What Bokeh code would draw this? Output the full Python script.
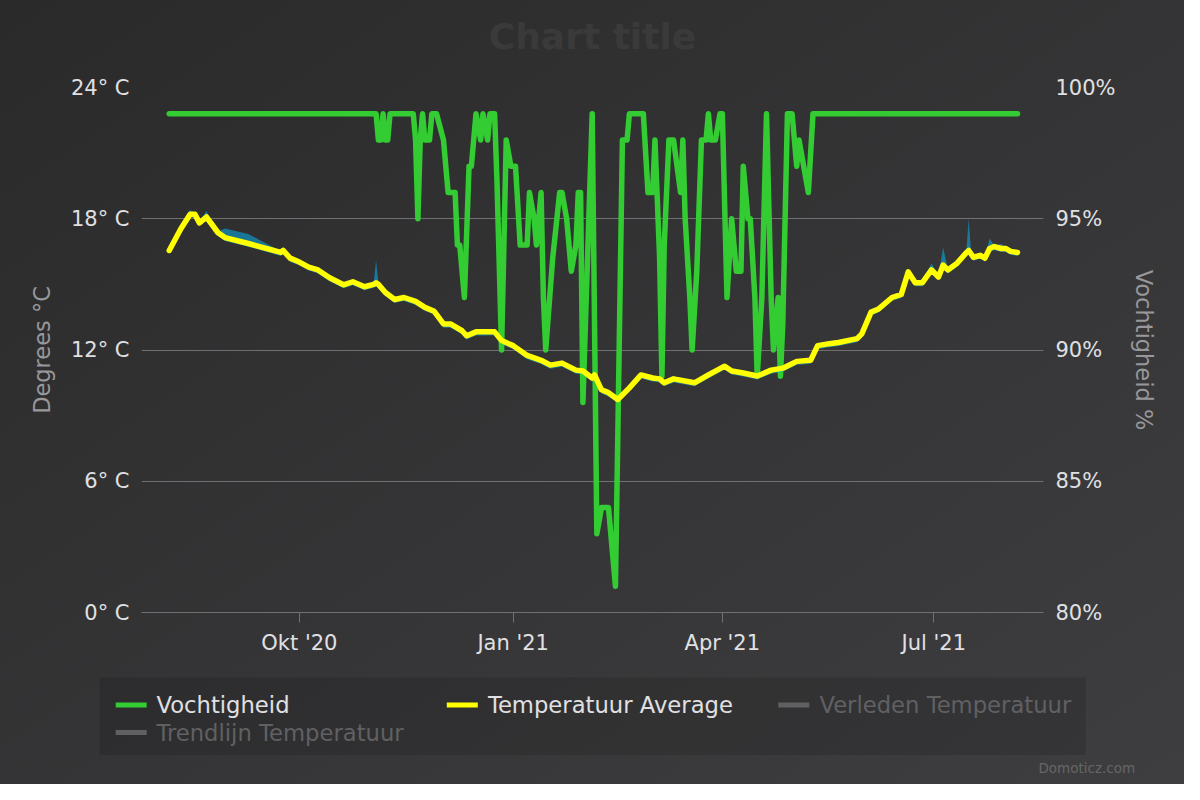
import pandas as pd
from bokeh.plotting import figure
from bokeh.layouts import column
from bokeh.models import ColumnDataSource, Range1d, LinearAxis, FixedTicker
from bokeh.core.properties import value
from bokeh.embed import file_html
from bokeh.resources import INLINE

# ---------------- data ----------------
temp_dates = [
    "2020-08-06", "2020-08-11", "2020-08-15", "2020-08-17", "2020-08-19", "2020-08-22", "2020-08-27", "2020-08-30",
    "2020-09-09", "2020-09-23", "2020-09-24", "2020-09-27",
    "2020-10-01", "2020-10-05", "2020-10-09", "2020-10-14", "2020-10-20", "2020-10-24", "2020-10-29",
    "2020-11-02", "2020-11-03", "2020-11-04", "2020-11-07", "2020-11-11", "2020-11-15", "2020-11-20", "2020-11-24", "2020-11-28",
    "2020-12-02", "2020-12-05", "2020-12-10", "2020-12-12", "2020-12-16", "2020-12-21", "2020-12-24", "2020-12-27",
    "2021-01-01", "2021-01-07", "2021-01-13", "2021-01-17", "2021-01-22", "2021-01-28", "2021-01-31",
    "2021-02-04", "2021-02-05", "2021-02-08", "2021-02-11", "2021-02-15", "2021-02-20", "2021-02-25",
    "2021-03-02", "2021-03-05", "2021-03-07", "2021-03-11", "2021-03-20", "2021-03-26",
    "2021-04-02", "2021-04-05", "2021-04-10", "2021-04-16", "2021-04-22", "2021-04-27",
    "2021-05-03", "2021-05-09", "2021-05-12", "2021-05-17", "2021-05-21", "2021-05-29", "2021-05-31",
    "2021-06-04", "2021-06-07", "2021-06-13", "2021-06-17", "2021-06-20", "2021-06-23", "2021-06-26", "2021-06-30",
    "2021-07-03", "2021-07-05", "2021-07-07", "2021-07-11", "2021-07-15", "2021-07-16", "2021-07-17", "2021-07-18",
    "2021-07-21", "2021-07-23", "2021-07-25", "2021-07-27", "2021-07-30",
    "2021-08-01", "2021-08-03", "2021-08-06",
]
temp_avg = [
    16.55, 17.54, 18.21, 18.21, 17.81, 18.08, 17.36, 17.14,
    16.87, 16.46, 16.55, 16.20,
    16.02, 15.79, 15.66, 15.30, 14.98, 15.12, 14.89,
    15.00, 15.07, 15.00, 14.63, 14.31, 14.40, 14.22, 13.95, 13.77,
    13.19, 13.19, 12.88, 12.65, 12.83, 12.83, 12.83, 12.43,
    12.20, 11.75, 11.53, 11.31, 11.40, 11.08, 11.04,
    10.72, 10.86, 10.18, 10.05, 9.74, 10.27, 10.86,
    10.72, 10.68, 10.50, 10.68, 10.50, 10.86,
    11.26, 11.04, 10.95, 10.81, 11.08, 11.17,
    11.48, 11.53, 12.20, 12.29, 12.34, 12.52, 12.74,
    13.73, 13.86, 14.40, 14.54, 15.57, 15.07, 15.07, 15.66,
    15.34, 15.88, 15.66, 15.97, 16.45, 16.55, 16.40, 16.24,
    16.33, 16.20, 16.64, 16.73, 16.64,
    16.64, 16.51, 16.46,
]
temp_min = [
    16.40, 17.38, 18.05, 18.05, 17.65, 17.92, 17.20, 16.98,
    16.72, 16.30, 16.40, 16.04,
    15.86, 15.63, 15.50, 15.14, 14.82, 14.96, 14.73,
    14.85, 14.91, 14.85, 14.47, 14.15, 14.24, 14.06, 13.79, 13.61,
    13.02, 13.02, 12.72, 12.48, 12.66, 12.66, 12.67, 12.27,
    12.03, 11.58, 11.36, 11.14, 11.24, 10.91, 10.88,
    10.55, 10.70, 10.01, 9.88, 9.58, 10.10, 10.70,
    10.56, 10.52, 10.34, 10.52, 10.34, 10.70,
    11.10, 10.88, 10.79, 10.65, 10.92, 11.01,
    11.32, 11.37, 12.04, 12.13, 12.18, 12.36, 12.58,
    13.57, 13.70, 14.24, 14.38, 15.41, 14.91, 14.91, 15.50,
    15.18, 15.72, 15.50, 15.81, 16.30, 16.39, 16.25, 16.08,
    16.17, 16.04, 16.48, 16.57, 16.48,
    16.48, 16.35, 16.30,
]
temp_max = [
    16.60, 17.60, 18.40, 18.25, 17.86, 18.35, 17.42, 17.55,
    17.30, 16.52, 16.60, 16.25,
    16.07, 15.84, 15.71, 15.35, 15.03, 15.17, 14.94,
    15.10, 16.10, 15.10, 14.68, 14.36, 14.45, 14.27, 14.00, 13.82,
    13.24, 13.24, 12.93, 12.70, 12.88, 12.88, 12.88, 12.48,
    12.25, 11.80, 11.58, 11.36, 11.45, 11.13, 11.09,
    10.77, 10.91, 10.23, 10.10, 9.79, 10.32, 10.91,
    10.77, 10.73, 10.55, 10.73, 10.55, 10.91,
    11.31, 11.09, 11.00, 10.86, 11.13, 11.22,
    11.53, 11.58, 12.25, 12.34, 12.45, 12.60, 12.79,
    13.78, 13.91, 14.45, 14.59, 15.62, 15.12, 15.12, 15.97,
    15.39, 16.70, 15.71, 16.02, 16.55, 18.00, 16.50, 16.29,
    16.38, 16.25, 17.10, 16.78, 16.85,
    16.69, 16.56, 16.51,
]

hum_dates = [
    "2020-08-06", "2020-11-03", "2020-11-04", "2020-11-05", "2020-11-06", "2020-11-07", "2020-11-08", "2020-11-09",
    "2020-11-19", "2020-11-20", "2020-11-21", "2020-11-22", "2020-11-23", "2020-11-24", "2020-11-26", "2020-11-27", "2020-11-29",
    "2020-12-02", "2020-12-04", "2020-12-07", "2020-12-08", "2020-12-09", "2020-12-11", "2020-12-13", "2020-12-14", "2020-12-16",
    "2020-12-18", "2020-12-19", "2020-12-21", "2020-12-22", "2020-12-24", "2020-12-25", "2020-12-27", "2020-12-29", "2020-12-31",
    "2021-01-02", "2021-01-04", "2021-01-07", "2021-01-08", "2021-01-10", "2021-01-11", "2021-01-13", "2021-01-14", "2021-01-15",
    "2021-01-18", "2021-01-21", "2021-01-22", "2021-01-24", "2021-01-26", "2021-01-28", "2021-01-29", "2021-01-30", "2021-01-31",
    "2021-02-04", "2021-02-06", "2021-02-08", "2021-02-11", "2021-02-14", "2021-02-17", "2021-02-19", "2021-02-20", "2021-02-26", "2021-02-28",
    "2021-03-02", "2021-03-03", "2021-03-05", "2021-03-06", "2021-03-07", "2021-03-09", "2021-03-11", "2021-03-14", "2021-03-15", "2021-03-16",
    "2021-03-18", "2021-03-19", "2021-03-21", "2021-03-23", "2021-03-25", "2021-03-26", "2021-03-27", "2021-03-29", "2021-03-31",
    "2021-04-01", "2021-04-03", "2021-04-05", "2021-04-07", "2021-04-09", "2021-04-10", "2021-04-12", "2021-04-13", "2021-04-15", "2021-04-16",
    "2021-04-18", "2021-04-20", "2021-04-22", "2021-04-23", "2021-04-25", "2021-04-26", "2021-04-27", "2021-04-29",
    "2021-05-01", "2021-05-03", "2021-05-04", "2021-05-06", "2021-05-08", "2021-05-10", "2021-08-06",
]
hum_values = [
    99, 99, 98, 98, 99, 98, 98, 99,
    99, 98, 95, 98, 99, 98, 98, 99, 99,
    98, 96, 96, 94, 94, 92, 97, 97, 99,
    98, 99, 98, 99, 99, 96.5, 90, 98, 97,
    97, 94, 94, 96, 95, 94, 96, 92, 90,
    93.5, 96, 96, 95, 93, 94, 96, 96, 88,
    99, 83, 84, 84, 81, 98, 98, 99, 99, 96,
    96, 98, 93.5, 89, 94, 98, 98, 96, 98, 95,
    92, 90, 93, 98, 98, 99, 98, 98, 99,
    99, 92, 95, 93, 93, 97, 95, 95, 92, 89,
    92, 99, 92, 90, 92, 89, 91, 99,
    99, 97, 98, 97, 96, 99, 99,
]

x_tick_dates = ["2020-10-01", "2021-01-01", "2021-04-01", "2021-07-01"]
x_tick_labels = ["Okt '20", "Jan '21", "Apr '21", "Jul '21"]
temp_ticks = [0, 6, 12, 18, 24]
temp_tick_labels = ["0° C", "6° C", "12° C", "18° C", "24° C"]
hum_ticks = [80, 85, 90, 95, 100]
hum_tick_labels = ["80%", "85%", "90%", "95%", "100%"]

chart_title = "Chart title"
credit_text = "Domoticz.com"
series_names = ["Vochtigheid", "Temperatuur Average", "Verleden Temperatuur", "Trendlijn Temperatuur"]
series_shown = [True, True, False, False]

# ---------------- helpers / style ----------------
def to_ms(s):
    return int(pd.Timestamp(s).value // 1_000_000)

FONT = "DejaVu Sans"
LABEL_COLOR = "#E0E0E3"
HIDDEN_COLOR = "#606063"
TITLE_COLOR = "#98989A"
GRID_COLOR = "#707073"
GREEN = "#33CC33"
YELLOW = "#FFFF00"

W = 1184
H_TOP = 60
H_MAIN = 604
H_LEG = 120


def strip(height):
    f = figure(width=W, height=height, output_backend="svg", toolbar_location=None,
               x_range=Range1d(0, W), y_range=Range1d(0, height),
               x_axis_location=None, y_axis_location=None, min_border=0)
    f.frame_align = False
    f.background_fill_alpha = 0
    f.border_fill_alpha = 0
    f.outline_line_color = None
    f.grid.visible = False
    return f


temp_src = ColumnDataSource(dict(
    date=[to_ms(d) for d in temp_dates], tavg=temp_avg, tmin=temp_min, tmax=temp_max))
hum_src = ColumnDataSource(dict(date=[to_ms(d) for d in hum_dates], hum=hum_values))

# ---------------- title strip ----------------
t = strip(H_TOP)
t.text(x=[W / 2], y=[24], text=[chart_title], text_color="#3a3a3b",
       text_font=value(FONT), text_font_size=value("36px"), text_font_style="bold",
       text_baseline="middle", text_align="center")

# ---------------- main chart ----------------
p = figure(width=W, height=H_MAIN, output_backend="svg", toolbar_location=None,
           title=None, x_axis_type="linear",
           x_range=Range1d(to_ms("2020-07-25 01:30"), to_ms("2021-08-17 04:30")),
           y_range=Range1d(temp_ticks[0], temp_ticks[-1]),
           min_border_left=141, min_border_right=141, min_border_top=87 - H_TOP,
           min_border_bottom=H_TOP + H_MAIN - 612)
p.frame_align = False
p.extra_y_ranges = {"hum": Range1d(hum_ticks[0], hum_ticks[-1])}
p.background_fill_alpha = 0
p.border_fill_alpha = 0
p.outline_line_color = None

# grid
p.xgrid.visible = False
p.ygrid.ticker = FixedTicker(ticks=temp_ticks)
p.ygrid.grid_line_color = GRID_COLOR
p.ygrid.grid_line_width = 1

# x axis
xa = p.xaxis[0]
xa.ticker = FixedTicker(ticks=[to_ms(d) for d in x_tick_dates])
xa.major_label_overrides = {to_ms(d): lab for d, lab in zip(x_tick_dates, x_tick_labels)}
xa.axis_line_color = GRID_COLOR
xa.major_tick_line_color = GRID_COLOR
xa.major_tick_out = 10
xa.major_tick_in = 0
xa.minor_tick_line_color = None
xa.major_label_standoff = 8
xa.major_label_text_color = LABEL_COLOR
xa.major_label_text_font = FONT
xa.major_label_text_font_size = "21px"

# left axis
ya = p.yaxis[0]
ya.ticker = FixedTicker(ticks=temp_ticks)
ya.major_label_overrides = dict(zip(temp_ticks, temp_tick_labels))
ya.axis_line_color = None
ya.major_tick_line_color = None
ya.major_tick_out = 0
ya.major_tick_in = 0
ya.minor_tick_line_color = None
ya.major_label_standoff = 12
ya.major_label_text_color = LABEL_COLOR
ya.major_label_text_font = FONT
ya.major_label_text_font_size = "21px"
ya.axis_label = "Degrees °C"
ya.axis_label_text_color = TITLE_COLOR
ya.axis_label_text_font = FONT
ya.axis_label_text_font_size = "22.5px"
ya.axis_label_text_font_style = "normal"
ya.axis_label_standoff = 13

# right axis
ra = LinearAxis(y_range_name="hum", ticker=FixedTicker(ticks=hum_ticks),
                major_label_overrides=dict(zip(hum_ticks, hum_tick_labels)),
                axis_line_color=None, major_tick_line_color=None, major_tick_out=0, major_tick_in=0,
                minor_tick_line_color=None, major_label_standoff=12,
                major_label_text_color=LABEL_COLOR, major_label_text_font=FONT,
                major_label_text_font_size="21px",
                axis_label="Vochtigheid %", axis_label_text_color=TITLE_COLOR,
                axis_label_text_font=FONT, axis_label_text_font_size="22.5px",
                axis_label_text_font_style="normal", axis_label_standoff=12)
p.add_layout(ra, "right")

# series
p.line("date", "hum", source=hum_src, y_range_name="hum",
       line_color=GREEN, line_width=5.5, line_join="round", line_cap="round")
p.varea(x="date", y1="tmin", y2="tmax", source=temp_src, fill_color="#03BEFC", fill_alpha=0.5)
p.line("date", "tavg", source=temp_src,
       line_color=YELLOW, line_width=5.5, line_join="round", line_cap="round")

# ---------------- legend strip ----------------
q = strip(H_LEG)
q.quad(left=[98.7], right=[1085.3], bottom=[29.4], top=[107.0],
       fill_color="black", fill_alpha=0.12, line_color=None)

sym_x = [130.7, 461.8, 793.3, 130.7]
txt_x = [155.9, 487.4, 818.9, 155.9]
row_y = [79.4, 79.4, 79.4, 52.0]
sym_colors = [GREEN, YELLOW, HIDDEN_COLOR, HIDDEN_COLOR]
txt_colors = [LABEL_COLOR if s else HIDDEN_COLOR for s in series_shown]

q.rect(x=sym_x, y=row_y, width=31, height=5, fill_color=sym_colors, line_color=None)
q.text(x=txt_x, y=row_y, text=series_names, text_color=txt_colors,
       text_font=value(FONT), text_font_size=value("22.7px"),
       text_baseline="middle", text_align="left")
q.text(x=[1134.7], y=[16.7], text=[credit_text], text_color="#666666",
       text_font=value(FONT), text_font_size=value("13.5px"),
       text_baseline="middle", text_align="right")

layout = column(t, p, q, spacing=0,
                styles={"background-image": "linear-gradient(to bottom right, #2a2a2b, #3e3e40)"})

open("out.html", "w").write(file_html(layout, INLINE))
